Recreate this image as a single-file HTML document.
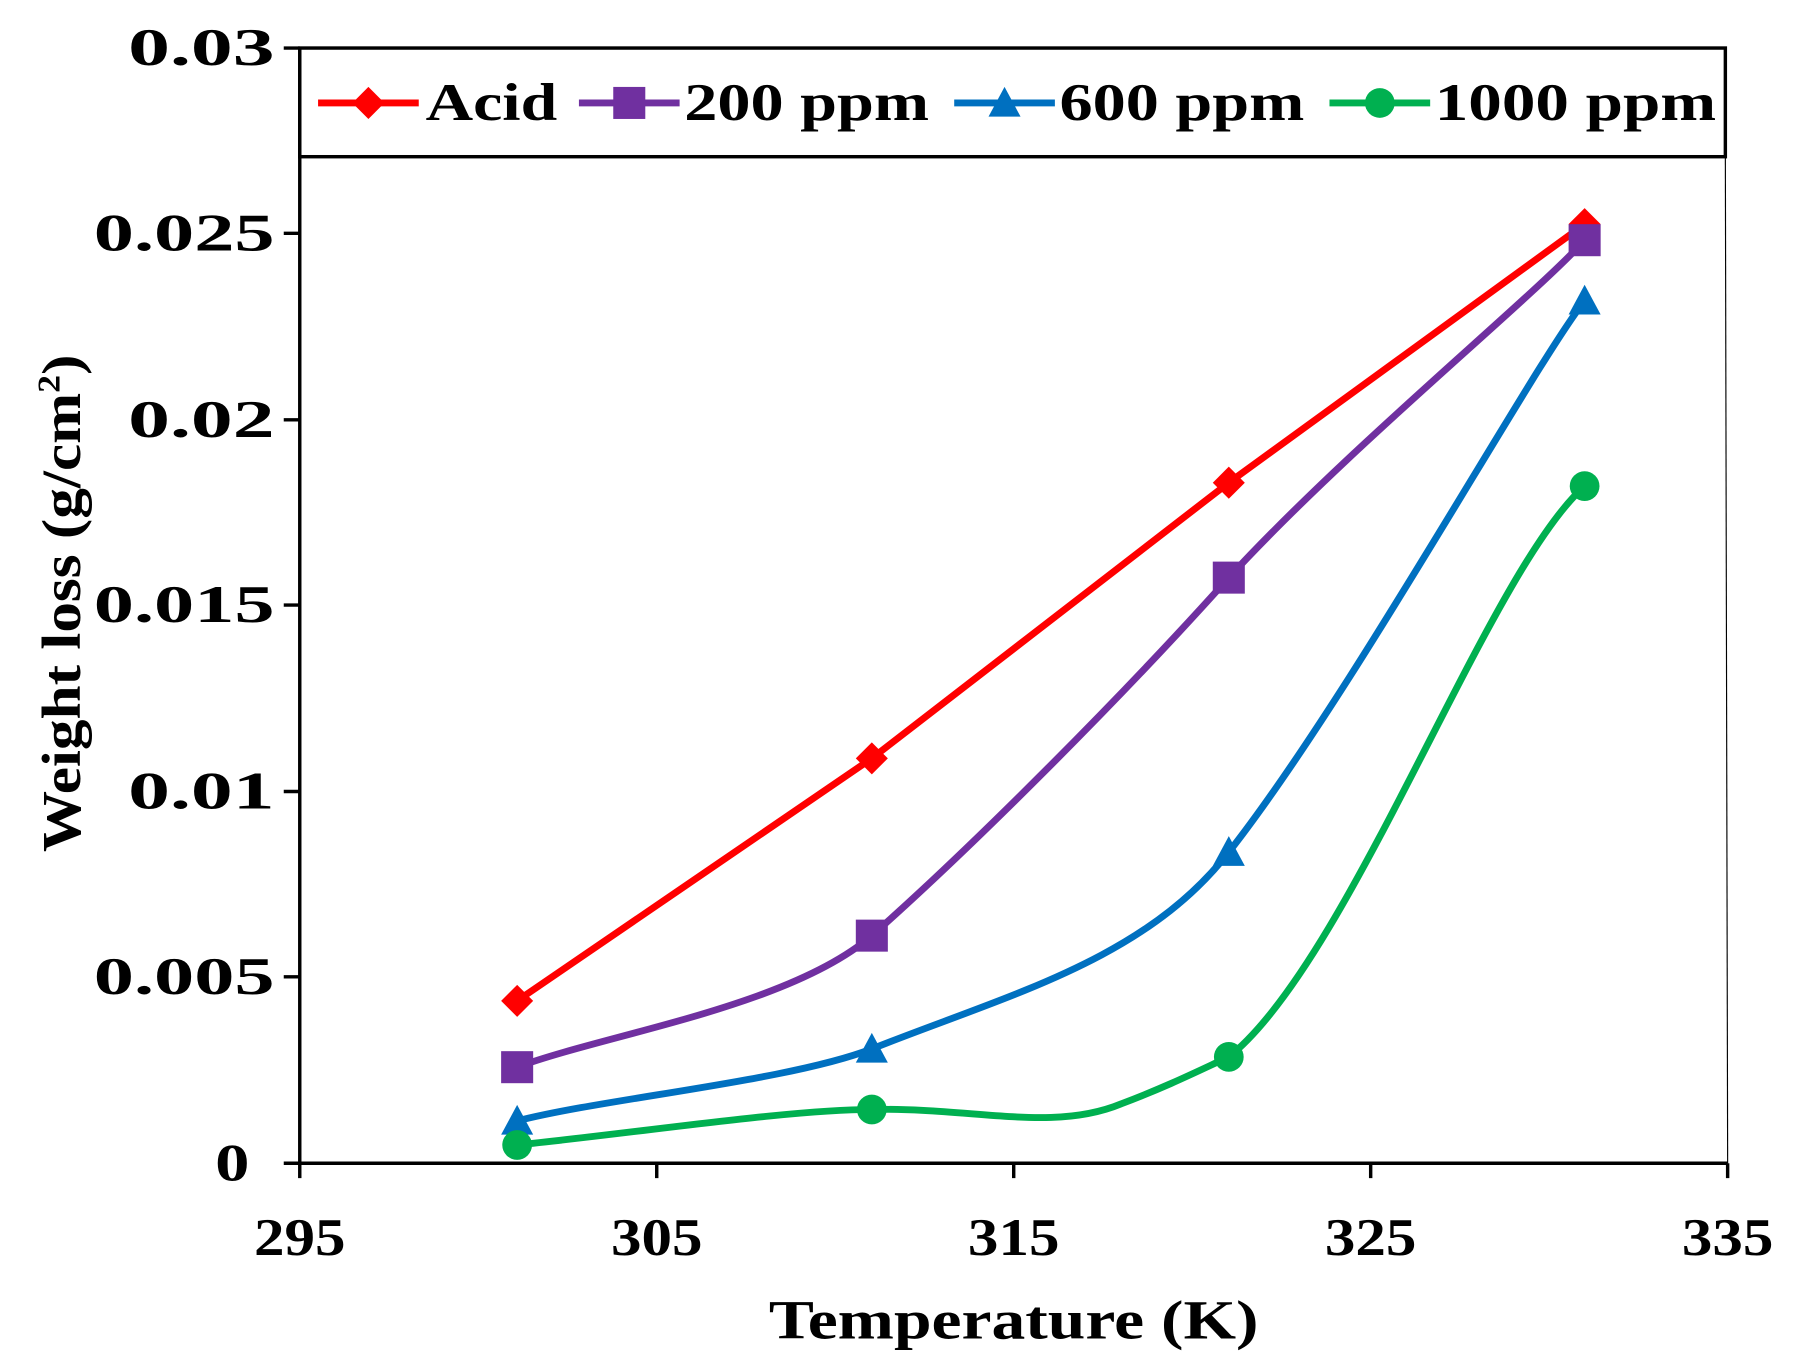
<!DOCTYPE html>
<html><head><style>html,body{margin:0;padding:0;background:#fff}svg{display:block}</style></head>
<body>
<svg width="1794" height="1368" viewBox="0 0 1568 1196" preserveAspectRatio="none" xmlns="http://www.w3.org/2000/svg" font-family="Liberation Serif, serif" font-weight="bold">
<rect width="1568" height="1196" fill="#fff"/>
<g stroke="#000" stroke-width="3" fill="none">
<line x1="262" y1="42" x2="262" y2="1017"/>
<line x1="262" y1="1017" x2="1510" y2="1017"/>
<rect x="262" y="42" width="1246" height="95"/>
<line x1="1508" y1="137" x2="1510" y2="1017" stroke-width="1"/>
<line x1="248" y1="42" x2="262" y2="42"/>
<line x1="248" y1="204" x2="262" y2="204"/>
<line x1="248" y1="367" x2="262" y2="367"/>
<line x1="248" y1="529" x2="262" y2="529"/>
<line x1="248" y1="692" x2="262" y2="692"/>
<line x1="248" y1="854" x2="262" y2="854"/>
<line x1="248" y1="1017" x2="262" y2="1017"/>
<line x1="262" y1="1017" x2="262" y2="1030"/>
<line x1="574" y1="1017" x2="574" y2="1030"/>
<line x1="886" y1="1017" x2="886" y2="1030"/>
<line x1="1198" y1="1017" x2="1198" y2="1030"/>
<line x1="1510" y1="1017" x2="1510" y2="1030"/>
</g>
<g font-size="46" lengthAdjust="spacingAndGlyphs">
<text x="112" y="57" textLength="128" lengthAdjust="spacingAndGlyphs">0.03</text>
<text x="82" y="219" textLength="158" lengthAdjust="spacingAndGlyphs">0.025</text>
<text x="112" y="382" textLength="128" lengthAdjust="spacingAndGlyphs">0.02</text>
<text x="82" y="544" textLength="158" lengthAdjust="spacingAndGlyphs">0.015</text>
<text x="112" y="707" textLength="128" lengthAdjust="spacingAndGlyphs">0.01</text>
<text x="82" y="869" textLength="158" lengthAdjust="spacingAndGlyphs">0.005</text>
<text x="188" y="1032" textLength="30" lengthAdjust="spacingAndGlyphs">0</text>
</g>
<g font-size="46">
<text x="222" y="1097" textLength="80" lengthAdjust="spacingAndGlyphs">295</text>
<text x="534" y="1097" textLength="80" lengthAdjust="spacingAndGlyphs">305</text>
<text x="846" y="1097" textLength="80" lengthAdjust="spacingAndGlyphs">315</text>
<text x="1158" y="1097" textLength="80" lengthAdjust="spacingAndGlyphs">325</text>
<text x="1470" y="1097" textLength="80" lengthAdjust="spacingAndGlyphs">335</text>
</g>
<text x="672" y="1170" font-size="48" textLength="428" lengthAdjust="spacingAndGlyphs">Temperature  (K)</text>
<text transform="translate(70,745) rotate(-90)" font-size="48" textLength="435" lengthAdjust="spacingAndGlyphs">Weight loss (g/cm<tspan font-size="28" dy="-18">2</tspan><tspan dy="18">)</tspan></text>
<g fill="none" stroke-width="6" stroke-linejoin="round">
<path stroke="#ff0000" d="M452,875 L762,663 L1074,422 L1385,196"/>
<path stroke="#7030a0" d="M452,933 C530,904 690,880 762,818 C850,740 980,610 1074,505 C1180,390 1340,260 1385,210"/>
<path stroke="#0070c0" d="M452,980 C530,960 690,945 762,917 C880,870 1000,840 1074,745 C1180,610 1340,320 1385,263"/>
<path stroke="#00b050" d="M452,1001 C560,990 690,970 762,970 C850,968 920,990 980,965 C1020,950 1050,935 1074,924 C1180,840 1300,500 1385,425"/>
</g>
<g fill="#ff0000"><path d="M452,861 l14,14 l-14,14 l-14,-14z"/><path d="M762,649 l14,14 l-14,14 l-14,-14z"/><path d="M1074,408 l14,14 l-14,14 l-14,-14z"/><path d="M1385,182 l14,14 l-14,14 l-14,-14z"/></g>
<g fill="#7030a0"><rect x="438" y="919" width="28" height="28"/><rect x="748" y="804" width="28" height="28"/><rect x="1060" y="491" width="28" height="28"/><rect x="1371" y="196" width="28" height="28"/></g>
<g fill="#0070c0"><path d="M452,966 l14,26 h-28z"/><path d="M762,903 l14,26 h-28z"/><path d="M1074,731 l14,26 h-28z"/><path d="M1385,249 l14,26 h-28z"/></g>
<g fill="#00b050"><circle cx="452" cy="1001" r="13"/><circle cx="762" cy="970" r="13"/><circle cx="1074" cy="924" r="13"/><circle cx="1385" cy="425" r="13"/></g>
<g stroke-width="6">
<line x1="278" y1="90" x2="366" y2="90" stroke="#ff0000"/>
<line x1="506" y1="90" x2="594" y2="90" stroke="#7030a0"/>
<line x1="834" y1="90" x2="922" y2="90" stroke="#0070c0"/>
<line x1="1162" y1="90" x2="1250" y2="90" stroke="#00b050"/>
</g>
<path d="M322,76 l14,14 l-14,14 l-14,-14z" fill="#ff0000"/>
<rect x="536" y="76" width="28" height="28" fill="#7030a0"/>
<path d="M878,76 l14,26 h-28z" fill="#0070c0"/>
<circle cx="1206" cy="90" r="13" fill="#00b050"/>
<g font-size="46">
<text x="372" y="105" textLength="115" lengthAdjust="spacingAndGlyphs">Acid</text>
<text x="598" y="105" textLength="214" lengthAdjust="spacingAndGlyphs">200 ppm</text>
<text x="926" y="105" textLength="214" lengthAdjust="spacingAndGlyphs">600 ppm</text>
<text x="1254" y="105" textLength="246" lengthAdjust="spacingAndGlyphs">1000 ppm</text>
</g>
</svg>
</body></html>
